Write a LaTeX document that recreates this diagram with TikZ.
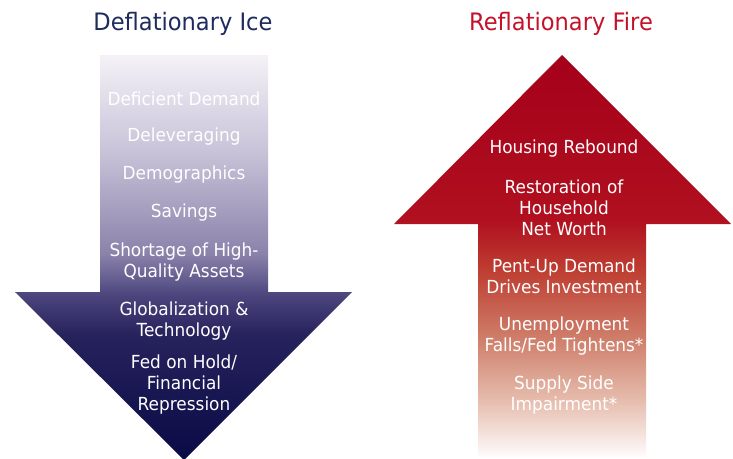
\documentclass[tikz,border=0pt]{standalone}
\usepackage{fontspec}
\setmainfont{DejaVu Sans}[FakeStretch=0.94]
\definecolor{navytitle}{HTML}{1E2B5E}
\definecolor{redtitle}{HTML}{C4122A}
\definecolor{ice0}{HTML}{0A0A46}
\definecolor{ice1}{HTML}{26225C}
\definecolor{ice2}{HTML}{4A437C}
\definecolor{ice3}{HTML}{8A82AA}
\definecolor{ice4}{HTML}{C8C2D8}
\definecolor{ice5}{HTML}{F4F2F7}
\definecolor{fire0}{HTML}{FFFFFF}
\definecolor{fire1}{HTML}{FBF4F2}
\definecolor{fire2}{HTML}{E6BCAD}
\definecolor{fire3}{HTML}{CF806C}
\definecolor{fire4}{HTML}{BE3E32}
\definecolor{fire5}{HTML}{B0101F}
\definecolor{fire6}{HTML}{A5001A}
\pgfdeclareverticalshading{iceshade}{100bp}{color(0bp)=(ice0); color(25bp)=(ice0); color(40.4bp)=(ice1); color(45.2bp)=(ice2); color(50.4bp)=(ice3); color(63bp)=(ice4); color(75bp)=(ice5); color(100bp)=(ice5)}
\pgfdeclareverticalshading{fireshade}{100bp}{color(0bp)=(fire0); color(25bp)=(fire0); color(26bp)=(fire1); color(32.2bp)=(fire2); color(39.6bp)=(fire3); color(48.3bp)=(fire4); color(54.5bp)=(fire5); color(75bp)=(fire6); color(100bp)=(fire6)}
\begin{document}
\begin{tikzpicture}[x=1pt,y=-1pt,
  titletext/.style={font=\fontsize{24}{28}\selectfont},
  itemtext/.style={font=\fontsize{18}{21}\selectfont, text=white, align=center, inner sep=0pt}]
\useasboundingbox (0,0) rectangle (733,458);
\fill[white] (0,0) rectangle (733,458);
% left arrow
\shade[shading=iceshade] (100,55) -- (268,55) -- (268,292) -- (352,292) -- (184,460) -- (15,292) -- (100,292) -- cycle;
% right arrow
\shade[shading=fireshade] (562,55) -- (731,224) -- (646,224) -- (646,458) -- (478,458) -- (478,224) -- (394,224) -- cycle;
% titles
\node[titletext, text=navytitle] (ticetitle) at (183,24) {Deflationary Ice};
\node[titletext, text=redtitle] (firetitle) at (561,24) {Reflationary Fire};
% left items
\node[itemtext] (l1) at (184,99) {Deficient Demand};
\node[itemtext] (l2) at (184,137) {Deleveraging};
\node[itemtext] (l3) at (184,175) {Demographics};
\node[itemtext] (l4) at (184,213) {Savings};
\node[itemtext] (l5) at (184,262) {Shortage of High-\\Quality Assets};
\node[itemtext] (l6) at (184,321) {Globalization \&\\Technology};
\node[itemtext] (l7) at (184,385) {Fed on Hold/\\Financial\\Repression};
% right items
\node[itemtext] (r1) at (564,149) {Housing Rebound};
\node[itemtext] (r2) at (564,208) {Restoration of\\Household\\Net Worth};
\node[itemtext] (r3) at (564,276) {Pent-Up Demand\\Drives Investment};
\node[itemtext] (r4) at (564,336) {Unemployment\\Falls/Fed Tightens*};
\node[itemtext] (r5) at (564,395) {Supply Side\\Impairment*};
\end{tikzpicture}
\end{document}
